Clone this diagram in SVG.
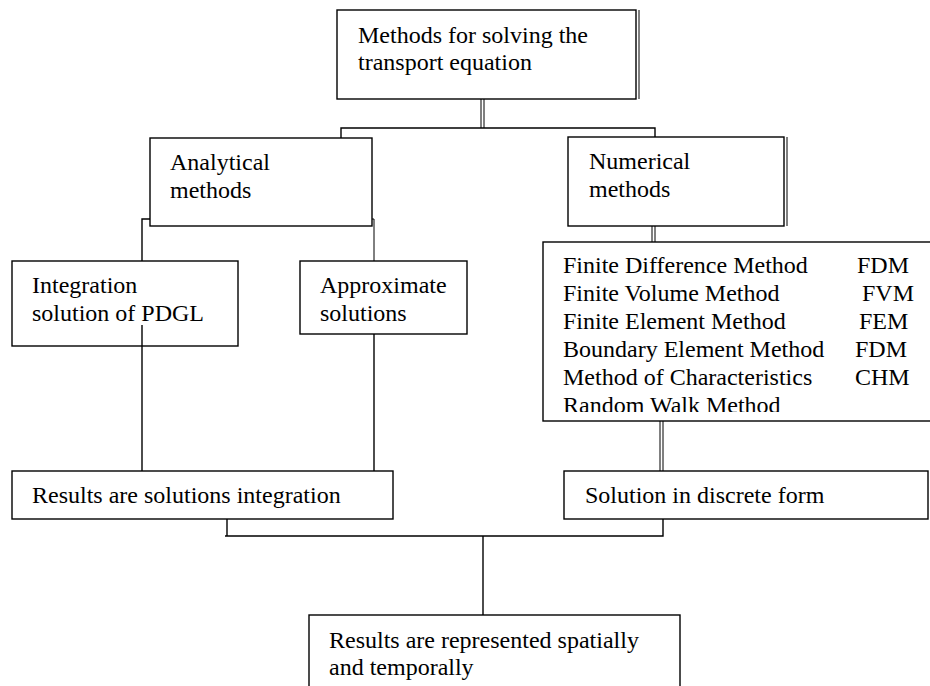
<svg xmlns="http://www.w3.org/2000/svg" width="930" height="686" viewBox="0 0 930 686">
<style>
  .box { fill: #fff; stroke: #000; stroke-width: 1.4; }
  .ln { fill: none; stroke: #000; stroke-width: 1.4; }
  .thin { fill: none; stroke: #000; stroke-width: 1; }
  text { font-family: "Liberation Serif", "Times New Roman", serif; font-size: 24px; fill: #000; }
</style>
<defs>
  <clipPath id="listclip"><rect x="543" y="242" width="400" height="170"/></clipPath>
</defs>
<rect width="930" height="686" fill="#fff"/>

<g id="top">
  <line class="thin" x1="639" y1="10" x2="639" y2="99"/>
  <rect class="box" x="337" y="10" width="299" height="89"/>
  <text x="358" y="43">Methods for solving the</text>
  <text x="358" y="70">transport equation</text>
</g>

<g id="analytical">
  <rect class="box" x="150" y="138" width="222" height="88"/>
  <text x="170" y="170">Analytical</text>
  <text x="170" y="198">methods</text>
</g>

<g id="numerical">
  <line class="thin" x1="787" y1="137" x2="787" y2="226"/>
  <rect class="box" x="568" y="137" width="216" height="89"/>
  <text x="589" y="169">Numerical</text>
  <text x="589" y="197">methods</text>
</g>

<g id="integration">
  <rect class="box" x="12" y="261" width="226" height="85"/>
  <text x="32" y="293">Integration</text>
  <text x="32" y="321">solution of PDGL</text>
</g>

<g id="approximate">
  <rect class="box" x="300" y="261" width="167" height="73"/>
  <text x="320" y="293">Approximate</text>
  <text x="320" y="321">solutions</text>
</g>

<g id="list">
  <rect class="box" x="543" y="242" width="400" height="179"/>
  <g clip-path="url(#listclip)">
    <text x="563" y="273">Finite Difference Method</text>
    <text x="857" y="273">FDM</text>
    <text x="563" y="301">Finite Volume Method</text>
    <text x="862" y="301">FVM</text>
    <text x="563" y="329">Finite Element Method</text>
    <text x="859" y="329">FEM</text>
    <text x="563" y="357">Boundary Element Method</text>
    <text x="855" y="357">FDM</text>
    <text x="563" y="385">Method of Characteristics</text>
    <text x="855" y="385">CHM</text>
    <text x="563" y="413">Random Walk Method</text>
  </g>
</g>

<g id="results">
  <rect class="box" x="12" y="471" width="381" height="48"/>
  <text x="32" y="503">Results are solutions integration</text>
</g>

<g id="solution">
  <rect class="box" x="564" y="471" width="364" height="48"/>
  <text x="585" y="503">Solution in discrete form</text>
</g>

<g id="final">
  <rect class="box" x="309" y="615" width="371" height="90"/>
  <text x="329" y="648">Results are represented spatially</text>
  <text x="329" y="675">and temporally</text>
</g>

<g id="connectors">
  <line class="thin" x1="481" y1="99" x2="481" y2="128"/>
  <line class="thin" x1="484" y1="99" x2="484" y2="128"/>
  <polyline class="ln" points="341,138 341,128 655,128 655,137"/>
  <polyline class="ln" points="150,219 142,219 142,261"/>
  <polyline class="thin" points="372,219 374,219 374,261"/>
  <line class="ln" x1="142" y1="325" x2="142" y2="471"/>
  <line class="ln" x1="374" y1="334" x2="374" y2="471"/>
  <line class="thin" x1="652" y1="226" x2="652" y2="242"/>
  <line class="thin" x1="655" y1="226" x2="655" y2="242"/>
  <line class="thin" x1="660" y1="421" x2="660" y2="471"/>
  <line class="thin" x1="663" y1="421" x2="663" y2="471"/>
  <polyline class="ln" points="225,536 663,536 663,519"/>
  <line class="ln" x1="227" y1="519" x2="227" y2="536"/>
  <line class="ln" x1="483" y1="536" x2="483" y2="615"/>
</g>
</svg>
